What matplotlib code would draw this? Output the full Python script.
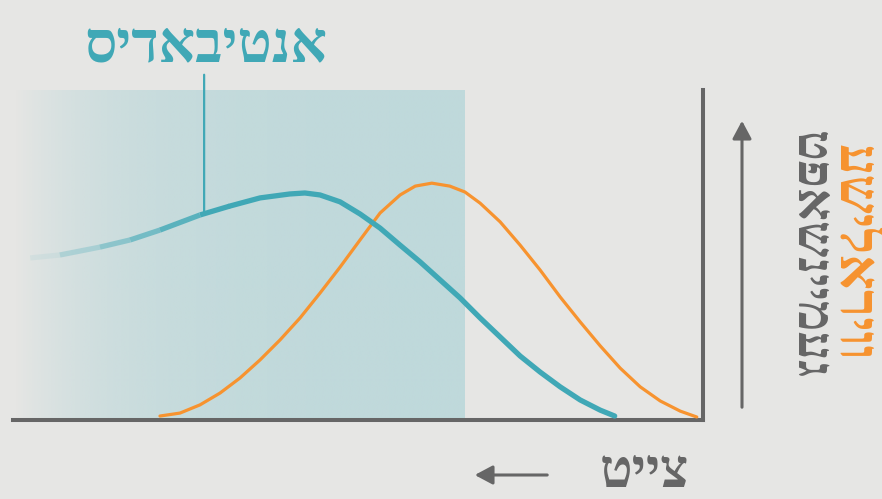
import numpy as np
import matplotlib
matplotlib.use("Agg")
import matplotlib.pyplot as plt
from matplotlib.collections import LineCollection

# time runs right-to-left (0 at the vertical axis), level 0..100
antibody_time = [97.5, 93.2, 87.4, 83.0, 78.7, 72.9, 68.6, 64.2, 59.9, 57.7, 55.5, 52.6,
                 49.7, 46.8, 43.9, 41.0, 38.1, 35.2, 32.3, 29.4, 26.5, 23.6, 20.7, 17.8,
                 14.9, 12.8]
antibody_level = [48.8, 49.7, 52.1, 54.3, 57.3, 61.9, 64.6, 67.1, 68.3, 68.6, 68.0, 65.9,
                  62.2, 57.9, 52.7, 47.6, 42.1, 36.6, 30.5, 24.7, 18.9, 14.0, 9.5, 5.5,
                  2.4, 0.6]
virus_time = [78.7, 75.8, 72.9, 70.0, 67.1, 64.2, 61.3, 58.4, 55.5, 52.6, 49.7, 46.8,
              43.9, 41.7, 39.3, 36.7, 34.5, 32.3, 29.4, 26.5, 23.6, 20.7, 17.8, 14.9,
              12.0, 9.1, 6.2, 3.3, 0.9]
virus_level = [0.6, 1.5, 4.0, 7.6, 12.2, 17.7, 23.8, 30.5, 38.1, 46.0, 54.3, 62.5,
               68.0, 70.7, 71.6, 70.7, 68.9, 65.5, 59.8, 52.7, 45.1, 36.9, 29.3, 22.0,
               15.2, 9.5, 5.2, 2.1, 0.3]
window_start = 34.5   # shaded antibody window
window_end = 99.7

title_label = "אנטיבאדיס"
y_label = "געמיינשאפט"
y_label2 = "וויראלישע"
x_label = "צייט"

BG = "#e6e6e4"
TEAL = "#40a8b6"
SHADE = (191 / 255, 217 / 255, 219 / 255)
ORANGE = "#f7932f"
GRAY = "#666666"
HEB = ["Liberation Serif", "DejaVu Sans"]


def vis(s):
    # matplotlib has no bidi, so hand it the visual order
    return s[::-1]


W, H = 882, 499
fig = plt.figure(figsize=(W / 100, H / 100), dpi=100)
fig.patch.set_facecolor(BG)
ax = fig.add_axes([13 / W, (H - 420) / H, 690 / W, 330 / H])
ax.set_facecolor("none")
ax.set_xlim(100, 0)
ax.set_ylim(-0.61, 100)
ax.set_xticks([])
ax.set_yticks([])
for s in ["top", "left"]:
    ax.spines[s].set_visible(False)
for s in ["right", "bottom"]:
    ax.spines[s].set_color(GRAY)
    ax.spines[s].set_linewidth(2.9)
    ax.spines[s].set_capstyle("projecting")

# shaded window with a fade towards later time
cols = np.linspace(window_end, window_start, 400)
alpha = 1 - np.exp(-(window_end - cols) / 13.8)
img = np.zeros((1, len(cols), 4))
img[..., 0], img[..., 1], img[..., 2] = SHADE
img[0, :, 3] = alpha
ax.imshow(img, extent=[window_end, window_start, -0.61, 100], aspect="auto",
          interpolation="bilinear", zorder=1)

# virus curve
ax.plot(virus_time, virus_level, color=ORANGE, lw=2.3, zorder=3,
        solid_capstyle="round", solid_joinstyle="round")

# antibody curve, fading out on the left
pts = np.column_stack([antibody_time, antibody_level])
segs = np.stack([pts[:-1], pts[1:]], axis=1)
mid = (pts[:-1, 0] + pts[1:, 0]) / 2
a = np.clip((97.5 - mid) / 27.0, 0.03, 1.0)
rgba = np.zeros((len(segs), 4))
rgba[:, :3] = matplotlib.colors.to_rgb(TEAL)
rgba[:, 3] = a
lc = LineCollection(segs[a < 1], colors=rgba[a < 1], linewidths=3.8, capstyle="butt",
                    zorder=4)
ax.add_collection(lc)
k = int(np.argmax(a >= 1))
ax.plot(antibody_time[k:], antibody_level[k:], color=TEAL, lw=3.8, zorder=4,
        solid_capstyle="round", solid_joinstyle="round")

# title with leader line
ax.annotate("", xy=(72.3, 62.0), xytext=(72.3, 105.5), textcoords="data",
            arrowprops=dict(arrowstyle="-", color=TEAL, lw=1.6), annotation_clip=False)
fig.text(206 / W, 1 - 47 / H, vis(title_label), color=TEAL, fontsize=41,
         fontweight="bold", family=HEB, ha="center", va="center")

# vertical axis arrow and labels
fig.patches.append(matplotlib.patches.FancyArrowPatch(
    (742 / W, 1 - 410 / H), (742 / W, 1 - 118 / H), transform=fig.transFigure,
    arrowstyle="-|>,head_length=0.9,head_width=0.48", mutation_scale=12,
    color=GRAY, lw=2.2))
fig.text(808 / W, 1 - 255 / H, vis(y_label), color=GRAY, fontsize=37,
         fontweight="bold", family=HEB, rotation=-90, ha="center", va="center")
fig.text(852 / W, 1 - 253 / H, vis(y_label2), color=ORANGE, fontsize=40,
         fontweight="bold", family=HEB, rotation=-90, ha="center", va="center")

# time axis arrow and label
fig.patches.append(matplotlib.patches.FancyArrowPatch(
    (550 / W, 1 - 475 / H), (472 / W, 1 - 475 / H), transform=fig.transFigure,
    arrowstyle="-|>,head_length=0.9,head_width=0.48", mutation_scale=12,
    color=GRAY, lw=2.2))
fig.text(644 / W, 1 - 474 / H, vis(x_label), color=GRAY, fontsize=39,
         fontweight="bold", family=HEB, ha="center", va="center")

fig.savefig("out.png", dpi=100, facecolor=BG)
